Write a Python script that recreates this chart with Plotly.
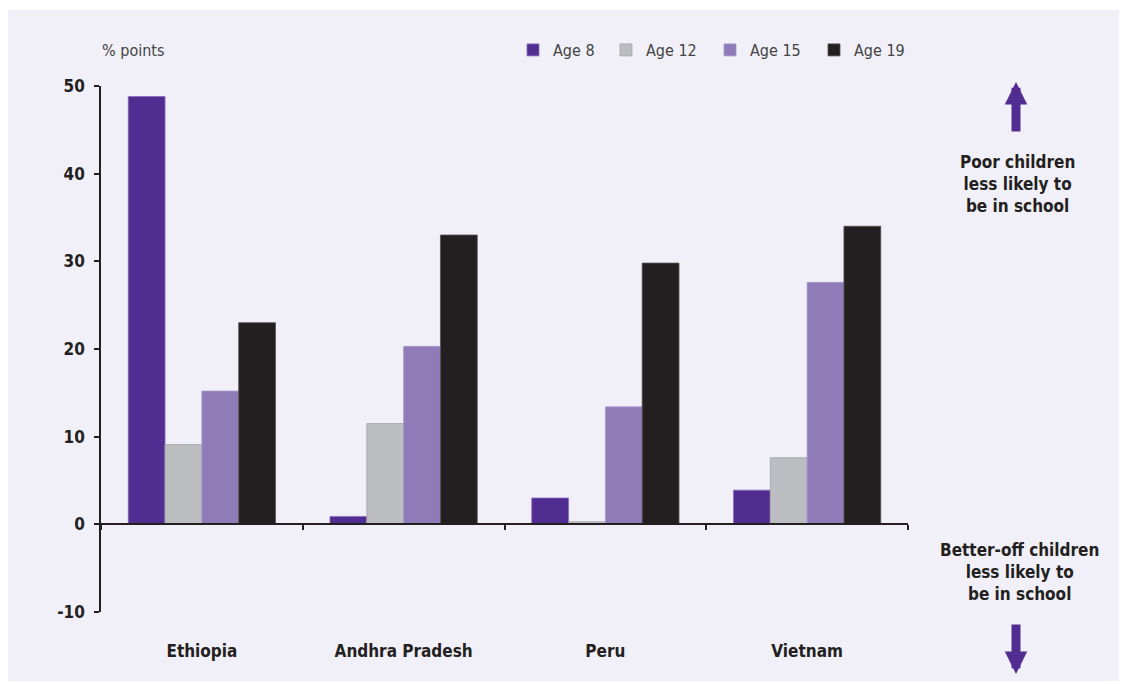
import plotly.graph_objects as go

# chart data
countries = ["Ethiopia", "Andhra Pradesh", "Peru", "Vietnam"]
age_groups = ["Age 8", "Age 12", "Age 15", "Age 19"]
age8 = [48.8, 0.9, 3.0, 3.9]
age12 = [9.1, 11.5, 0.3, 7.6]
age15 = [15.2, 20.3, 13.4, 27.6]
age19 = [23.0, 33.0, 29.8, 34.0]
y_ticks = [-10, 0, 10, 20, 30, 40, 50]
y_ticktext = ["-10", "0", "10", "20", "30", "40", "50"]

series = [age8, age12, age15, age19]
colors = ["#512d91", "#bcbdc0", "#8f7bb8", "#231f20"]
edges = ["#8a6fc0", "#a5a6a9", "#a897cc", "#555253"]
legend_widths = [48, 59, 59, 59]

# page body adds an 8px margin, so the figure sits at (8, 8)
OFF = 8
W, H = 1127 - OFF, 684 - OFF
ML, MR, MT, MB = 101 - OFF, 219, 86 - OFF, 72
PW, PH = W - ML - MR, H - MT - MB

FONT = "Liberation Sans Narrow, DejaVu Sans Condensed, Roboto, Liberation Sans, sans-serif"
BG = "#f1f0f8"


def px(x):
    # page pixel -> paper x
    return (x - OFF - ML) / PW


def py(y):
    # page pixel -> paper y
    return (H - MB - (y - OFF)) / PH


fig = go.Figure()
for name, vals, col, edge, lw in zip(age_groups, series, colors, edges, legend_widths):
    fig.add_trace(
        go.Bar(
            x=countries,
            y=vals,
            name=name,
            legendwidth=lw,
            marker=dict(color=col, line=dict(color=edge, width=0.8)),
        )
    )

# lavender panel behind everything
fig.add_shape(
    type="rect", xref="paper", yref="paper", layer="below",
    x0=px(8), x1=px(1130), y0=py(681), y1=py(10),
    fillcolor=BG, line=dict(width=0),
)

fig.add_annotation(
    text="% points", xref="paper", yref="paper", x=px(100), y=py(50),
    xanchor="left", yanchor="middle", showarrow=False,
    font=dict(family=FONT, size=16, color="#444"),
)

note_font = dict(family=FONT, size=17, color="#231f20", weight="bold")
fig.add_annotation(
    text="Poor children<br>less likely to<br>be in school", xref="paper", yref="paper",
    x=px(1017), y=py(184), xanchor="center", yanchor="middle", showarrow=False,
    font=note_font, align="center",
)
fig.add_annotation(
    text="Better-off children<br>less likely to<br>be in school", xref="paper", yref="paper",
    x=px(1019), y=py(572), xanchor="center", yanchor="middle", showarrow=False,
    font=note_font, align="center",
)
# arrows (tail offset in pixels)
fig.add_annotation(
    xref="paper", yref="paper", x=px(1016), y=py(82), ax=0, ay=51, text="",
    showarrow=True, arrowhead=2, arrowsize=0.5, arrowwidth=9, arrowcolor="#512d91",
)
fig.add_annotation(
    xref="paper", yref="paper", x=px(1016), y=py(674), ax=0, ay=-51, text="",
    showarrow=True, arrowhead=2, arrowsize=0.5, arrowwidth=9, arrowcolor="#512d91",
)

fig.update_layout(
    width=W, height=H,
    margin=dict(l=ML, r=MR, t=MT, b=MB, pad=0),
    paper_bgcolor="white",
    plot_bgcolor="rgba(0,0,0,0)",
    barmode="group",
    bargap=0.27,
    bargroupgap=0,
    font=dict(family=FONT, color="#231f20"),
    showlegend=True,
    legend=dict(
        orientation="h", x=px(513), y=py(50), xanchor="left", yanchor="middle",
        font=dict(family=FONT, size=16, color="#444"),
        bgcolor="rgba(0,0,0,0)", itemwidth=30, traceorder="normal",
    ),
    xaxis=dict(
        anchor="free", position=10 / 60,
        showline=True, linecolor="#231f20", linewidth=1.5,
        ticks="outside", tickson="boundaries", ticklen=5, tickcolor="#231f20", tickwidth=1.5,
        tickfont=dict(family=FONT, size=17, color="#231f20", weight="bold"),
        ticklabelstandoff=112,
        showgrid=False, zeroline=False,
    ),
    yaxis=dict(
        range=[-10, 50], tickvals=y_ticks, ticktext=y_ticktext,
        showline=True, linecolor="#231f20", linewidth=1.5,
        ticks="outside", ticklen=5, tickcolor="#231f20", tickwidth=1.5,
        tickfont=dict(family=FONT, size=17, color="#231f20", weight="bold"),
        ticklabelstandoff=6,
        showgrid=False, zeroline=False,
    ),
)

fig.write_html("out.html")
